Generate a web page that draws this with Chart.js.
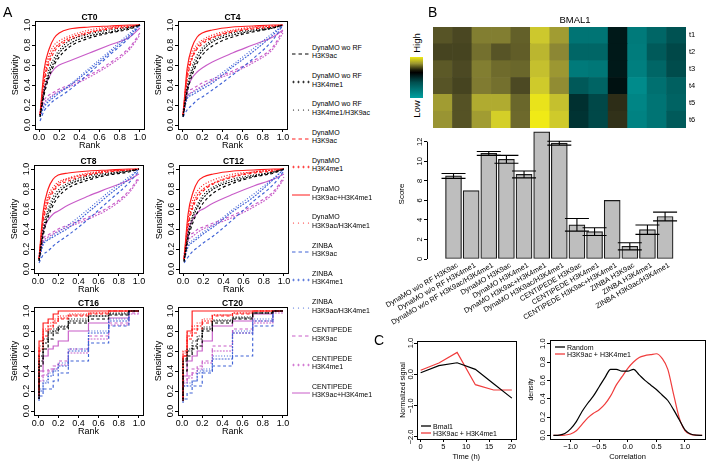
<!DOCTYPE html>
<html><head><meta charset="utf-8">
<script src="https://cdn.jsdelivr.net/npm/chart.js@4.4.1/dist/chart.umd.min.js"></script>
<style>
body{margin:0;background:#fff;}
#wrap{position:relative;width:710px;height:469px;overflow:hidden;font-family:"Liberation Sans",Arial,Helvetica,sans-serif;color:#000;}
canvas{position:absolute;}
.plab{position:absolute;font-size:14px;line-height:14px;}
.legA{position:absolute;left:312px;font-size:7px;line-height:8.5px;white-space:nowrap;}
.legA svg{position:absolute;left:-20px;}
.legC{position:absolute;font-size:7px;line-height:7px;white-space:nowrap;}
.legC svg{position:absolute;}
.rot{position:absolute;transform:translate(-50%,-50%) rotate(-90deg);white-space:nowrap;}
</style></head>
<body><div id="wrap"></div>
<script>
// ---------------- DATA ----------------
const PANELS = ['CT0','CT4','CT8','CT12','CT16','CT20'];
const RANK = [0.01,0.05,0.1,0.15,0.2,0.3,0.5,0.7,0.9,1.0];
const TICK01 = [0,0.2,0.4,0.6,0.8,1.0];
// each series: one row per panel (CT0, CT4, CT8, CT12, CT16, CT20), sensitivity at RANK
const woRF_H3K9ac = [
 [0.08,0.30,0.48,0.60,0.68,0.78,0.87,0.92,0.96,1.0],
 [0.08,0.32,0.50,0.62,0.70,0.79,0.88,0.93,0.97,1.0],
 [0.08,0.33,0.52,0.64,0.72,0.81,0.89,0.94,0.97,1.0],
 [0.07,0.30,0.47,0.58,0.66,0.76,0.86,0.92,0.96,1.0],
 [0.12,0.45,0.62,0.72,0.78,0.82,0.88,0.92,0.96,1.0],
 [0.10,0.40,0.55,0.62,0.65,0.80,0.88,0.92,0.98,1.0]];
const woRF_H3K4me1 = [
 [0.09,0.33,0.52,0.63,0.72,0.81,0.89,0.93,0.97,1.0],
 [0.09,0.35,0.54,0.66,0.74,0.83,0.90,0.94,0.97,1.0],
 [0.09,0.36,0.56,0.68,0.76,0.84,0.91,0.95,0.98,1.0],
 [0.08,0.33,0.52,0.63,0.71,0.80,0.88,0.93,0.97,1.0],
 [0.12,0.50,0.68,0.78,0.80,0.84,0.90,0.95,0.97,1.0],
 [0.12,0.50,0.60,0.65,0.72,0.82,0.90,0.93,0.98,1.0]];
const woRF_H3K4me1_H3K9ac = [
 [0.10,0.36,0.56,0.67,0.75,0.84,0.91,0.95,0.98,1.0],
 [0.10,0.38,0.58,0.70,0.77,0.85,0.92,0.95,0.98,1.0],
 [0.10,0.40,0.60,0.72,0.79,0.86,0.93,0.96,0.98,1.0],
 [0.09,0.36,0.55,0.66,0.74,0.82,0.90,0.94,0.97,1.0],
 [0.15,0.55,0.72,0.80,0.82,0.85,0.92,0.95,0.98,1.0],
 [0.15,0.52,0.62,0.70,0.75,0.84,0.91,0.94,0.98,1.0]];
const dyn_H3K9ac = [
 [0.10,0.42,0.62,0.73,0.79,0.85,0.92,0.96,0.98,1.0],
 [0.10,0.45,0.66,0.76,0.81,0.87,0.93,0.96,0.98,1.0],
 [0.10,0.46,0.67,0.77,0.83,0.88,0.94,0.97,0.99,1.0],
 [0.10,0.42,0.62,0.72,0.78,0.85,0.92,0.96,0.98,1.0],
 [0.15,0.60,0.75,0.82,0.88,0.92,0.95,0.97,1.0,1.0],
 [0.12,0.55,0.72,0.78,0.82,0.88,0.95,0.97,1.0,1.0]];
const dyn_H3K4me1 = [
 [0.10,0.45,0.66,0.76,0.81,0.87,0.93,0.97,0.99,1.0],
 [0.10,0.48,0.68,0.78,0.83,0.88,0.94,0.97,0.99,1.0],
 [0.10,0.49,0.70,0.79,0.85,0.90,0.95,0.98,0.99,1.0],
 [0.10,0.45,0.65,0.75,0.80,0.86,0.93,0.97,0.99,1.0],
 [0.15,0.62,0.80,0.85,0.90,0.93,0.96,0.98,1.0,1.0],
 [0.15,0.60,0.75,0.82,0.85,0.90,0.96,0.98,1.0,1.0]];
const dyn_H3K9ac_plus_H3K4me1 = [
 [0.10,0.55,0.76,0.87,0.92,0.96,0.98,0.99,1.0,1.0],
 [0.10,0.56,0.78,0.88,0.92,0.95,0.98,0.99,1.0,1.0],
 [0.10,0.57,0.80,0.90,0.94,0.96,0.98,0.99,1.0,1.0],
 [0.10,0.55,0.77,0.88,0.92,0.95,0.98,0.99,1.0,1.0],
 [0.20,0.70,0.88,0.92,0.97,1.0,1.0,1.0,1.0,1.0],
 [0.10,0.55,0.80,1.0,1.0,1.0,1.0,1.0,1.0,1.0]];
const dyn_H3K9ac_H3K4me1 = [
 [0.10,0.50,0.70,0.80,0.84,0.89,0.95,0.98,0.99,1.0],
 [0.10,0.52,0.72,0.81,0.85,0.90,0.95,0.98,0.99,1.0],
 [0.10,0.53,0.73,0.82,0.87,0.91,0.96,0.98,0.99,1.0],
 [0.10,0.50,0.70,0.79,0.84,0.89,0.95,0.97,0.99,1.0],
 [0.18,0.65,0.82,0.88,0.92,0.95,0.97,0.98,1.0,1.0],
 [0.12,0.58,0.78,0.85,0.88,0.92,0.96,0.98,1.0,1.0]];
const zinba_H3K9ac = [
 [0.04,0.14,0.20,0.25,0.28,0.35,0.52,0.70,0.88,1.0],
 [0.08,0.15,0.20,0.25,0.28,0.35,0.50,0.66,0.85,1.0],
 [0.06,0.14,0.18,0.23,0.27,0.34,0.50,0.68,0.86,0.98],
 [0.06,0.12,0.18,0.22,0.26,0.33,0.50,0.68,0.85,0.98],
 [0.10,0.15,0.22,0.22,0.30,0.38,0.50,0.68,0.85,1.0],
 [0.08,0.12,0.18,0.25,0.25,0.38,0.45,0.55,0.85,1.0]];
const zinba_H3K4me1 = [
 [0.08,0.18,0.24,0.28,0.32,0.39,0.55,0.72,0.90,1.0],
 [0.08,0.26,0.30,0.33,0.36,0.42,0.58,0.73,0.90,1.0],
 [0.08,0.24,0.29,0.32,0.35,0.41,0.57,0.74,0.90,1.0],
 [0.08,0.22,0.27,0.31,0.35,0.42,0.58,0.72,0.90,1.0],
 [0.12,0.20,0.28,0.35,0.40,0.45,0.60,0.78,0.90,1.0],
 [0.10,0.25,0.25,0.30,0.38,0.40,0.52,0.78,0.90,1.0]];
const zinba_H3K9ac_H3K4me1 = [
 [0.10,0.20,0.26,0.30,0.33,0.40,0.57,0.74,0.92,1.0],
 [0.10,0.28,0.32,0.35,0.38,0.45,0.60,0.76,0.92,1.0],
 [0.10,0.26,0.30,0.34,0.37,0.44,0.60,0.77,0.92,1.0],
 [0.10,0.24,0.29,0.33,0.37,0.44,0.60,0.75,0.91,1.0],
 [0.12,0.22,0.30,0.38,0.42,0.48,0.62,0.80,0.92,1.0],
 [0.12,0.25,0.28,0.30,0.40,0.42,0.55,0.80,0.92,1.0]];
const cent_H3K9ac = [
 [0.15,0.25,0.30,0.33,0.36,0.40,0.50,0.62,0.78,0.92],
 [0.15,0.32,0.36,0.39,0.42,0.46,0.54,0.64,0.78,0.95],
 [0.15,0.30,0.34,0.37,0.40,0.44,0.52,0.62,0.78,0.92],
 [0.15,0.32,0.36,0.40,0.42,0.46,0.54,0.64,0.78,0.92],
 [0.15,0.35,0.40,0.42,0.45,0.50,0.62,0.75,0.88,0.98],
 [0.12,0.30,0.35,0.42,0.45,0.50,0.65,0.82,0.90,1.0]];
const cent_H3K4me1 = [
 [0.12,0.22,0.27,0.31,0.34,0.38,0.48,0.60,0.76,0.90],
 [0.12,0.28,0.33,0.36,0.39,0.44,0.52,0.62,0.76,0.92],
 [0.12,0.27,0.32,0.35,0.38,0.42,0.50,0.60,0.76,0.90],
 [0.12,0.28,0.33,0.37,0.40,0.44,0.52,0.62,0.76,0.90],
 [0.12,0.30,0.36,0.40,0.42,0.46,0.58,0.72,0.86,0.97],
 [0.10,0.28,0.33,0.38,0.42,0.48,0.60,0.78,0.88,0.98]];
const cent_H3K9ac_plus_H3K4me1 = [
 [0.12,0.35,0.48,0.56,0.60,0.64,0.72,0.80,0.88,0.97],
 [0.10,0.35,0.47,0.53,0.57,0.63,0.72,0.80,0.88,0.95],
 [0.10,0.37,0.49,0.55,0.58,0.64,0.73,0.81,0.89,0.95],
 [0.10,0.38,0.50,0.57,0.60,0.66,0.75,0.83,0.90,0.95],
 [0.12,0.40,0.55,0.62,0.65,0.70,0.80,0.88,0.93,1.0],
 [0.12,0.35,0.50,0.55,0.60,0.70,0.85,0.90,0.97,1.0]];

// Panel B
const BAR_LABELS = ['DynaMO w/o RF H3K9ac','DynaMO w/o RF H3K4me1','DynaMO w/o RF H3K9ac/H3K4me1','DynaMO H3K9ac','DynaMO H3K4me1','DynaMO H3K9ac+H3K4me1','DynaMO H3K9ac/H3K4me1','CENTIPEDE H3K9ac','CENTIPEDE H3K4me1','CENTIPEDE H3K9ac+H3K4me1','ZINBA H3K9ac','ZINBA H3K4me1','ZINBA H3K9ac/H3K4me1'];
const BAR_SCORES = [8.5,7.0,10.8,10.2,8.65,13.0,11.85,3.5,2.8,6.0,1.3,3.0,4.35];
const BAR_ERR    = [0.25,0,0.2,0.4,0.35,0,0.2,0.65,0.4,0,0.37,0.48,0.45];
const SCORE_TICKS = [0,2,4,6,8,10,12];
const HEAT_ROWS = ['t1','t2','t3','t4','t5','t6'];
const heat_t1 = [0.38,0.32,0.56,0.56,0.43,0.85,0.68,-0.76,-0.76,-0.12,-0.80,-0.66,-0.52];
const heat_t2 = [0.30,0.30,0.50,0.38,0.42,0.78,0.60,-0.66,-0.66,-0.12,-0.82,-0.58,-0.45];
const heat_t3 = [0.40,0.33,0.56,0.48,0.46,0.82,0.66,-0.80,-0.78,-0.12,-0.84,-0.66,-0.48];
const heat_t4 = [0.38,0.30,0.55,0.50,0.33,0.86,0.62,-0.57,-0.65,-0.06,-0.92,-0.73,-0.62];
const heat_t5 = [0.68,0.37,0.74,0.74,0.46,0.97,0.82,-0.28,-0.45,0.18,-0.88,-0.76,-0.64];
const heat_t6 = [0.65,0.37,0.68,0.88,0.47,1.00,0.86,-0.30,-0.45,0.20,-0.86,-0.76,-0.58];

// Panel C
const TIME_H = [0,4,8,12,16,20];
const BMAL1_SIGNAL = [0.05,0.28,0.37,0.16,-0.30,-0.76];
const MARK_SIGNAL  = [0.13,0.36,0.70,-0.33,-0.50,-0.50];
const TIME_TICKS = [0,5,10,15,20];
const SIGNAL_TICKS = [-2,-1,0,1];
const CORR_X = [-1.3,-1.2,-1.1,-1.0,-0.9,-0.8,-0.7,-0.6,-0.5,-0.4,-0.3,-0.2,-0.1,0,0.1,0.2,0.3,0.4,0.5,0.6,0.7,0.8,0.9,1.0,1.1,1.2,1.3];
const DENS_RANDOM = [0,0.003,0.02,0.07,0.15,0.26,0.35,0.43,0.53,0.63,0.72,0.72,0.70,0.70,0.72,0.66,0.60,0.55,0.50,0.44,0.38,0.28,0.17,0.06,0.015,0.002,0];
const DENS_MARK   = [0,0,0.003,0.015,0.05,0.12,0.19,0.24,0.28,0.34,0.43,0.55,0.64,0.73,0.80,0.85,0.87,0.88,0.89,0.84,0.72,0.45,0.19,0.05,0.01,0.001,0];
const CORR_TICKS = [-1,-0.5,0,0.5,1];

// ---------------- STYLE ----------------
const FONT = '"Liberation Sans", Arial, Helvetica, sans-serif';
const BLACK='#000000', RED='#ff1a1a', BLUE='#3f62d6', MAG='#c85cc8';
const DASHES = {dash:[3,2.5], plus:[1.8,1.3], dot:[1,1.8], solid:[]};
const SERIES = [
 {name:['DynaMO wo RF','H3K9ac'], data:woRF_H3K9ac, color:BLACK, style:'dash'},
 {name:['DynaMO wo RF','H3K4me1'], data:woRF_H3K4me1, color:BLACK, style:'plus'},
 {name:['DynaMO wo RF','H3K4me1/H3K9ac'], data:woRF_H3K4me1_H3K9ac, color:BLACK, style:'dot'},
 {name:['DynaMO','H3K9ac'], data:dyn_H3K9ac, color:RED, style:'dash'},
 {name:['DynaMO','H3K4me1'], data:dyn_H3K4me1, color:RED, style:'plus'},
 {name:['DynaMO','H3K9ac+H3K4me1'], data:dyn_H3K9ac_plus_H3K4me1, color:RED, style:'solid'},
 {name:['DynaMO','H3K9ac/H3K4me1'], data:dyn_H3K9ac_H3K4me1, color:RED, style:'dot'},
 {name:['ZINBA','H3K9ac'], data:zinba_H3K9ac, color:BLUE, style:'dash'},
 {name:['ZINBA','H3K4me1'], data:zinba_H3K4me1, color:BLUE, style:'plus'},
 {name:['ZINBA','H3K9ac/H3K4me1'], data:zinba_H3K9ac_H3K4me1, color:BLUE, style:'dot'},
 {name:['CENTIPEDE','H3K9ac'], data:cent_H3K9ac, color:MAG, style:'dash'},
 {name:['CENTIPEDE','H3K4me1'], data:cent_H3K4me1, color:MAG, style:'plus'},
 {name:['CENTIPEDE','H3K9ac+H3K4me1'], data:cent_H3K9ac_plus_H3K4me1, color:MAG, style:'solid'}
];

Chart.defaults.font.family = FONT;
Chart.defaults.color = '#000';
Chart.defaults.plugins.legend.display = false;
Chart.defaults.plugins.tooltip.enabled = false;

function fmt(v, dec){ return (v < 0 ? '\u2212' : '') + Math.abs(v).toFixed(dec); }

const rAxes = {
  id:'rAxes',
  afterDraw(chart, args, o){
    if (!o || !o.on) return;
    const ctx = chart.ctx, a = chart.chartArea;
    ctx.save();
    ctx.strokeStyle = '#000'; ctx.fillStyle = '#000'; ctx.lineWidth = 1;
    if (o.box) {
      ctx.strokeRect(Math.round(a.left)+0.5, Math.round(a.top)+0.5, Math.round(a.right-a.left), Math.round(a.bottom-a.top));
    }
    if (o.axisLine) {
      const ys = chart.scales.y, t = ys.ticks, x = Math.round(a.left)+0.5;
      ctx.beginPath(); ctx.moveTo(x, ys.getPixelForValue(t[0].value)); ctx.lineTo(x, ys.getPixelForValue(t[t.length-1].value)); ctx.stroke();
    }
    if (o.yLabels) {
      const ys = chart.scales.y;
      ctx.font = o.yFont; ctx.textAlign = 'center'; ctx.textBaseline = 'middle';
      ys.ticks.forEach(t => {
        const y = ys.getPixelForValue(t.value);
        ctx.save(); ctx.translate(a.left - o.yOff, y); ctx.rotate(-Math.PI/2);
        ctx.fillText(fmt(t.value, o.dec), 0, 0); ctx.restore();
      });
    }
    if (o.title) {
      ctx.font = o.titleFont; ctx.textAlign = 'center'; ctx.textBaseline = 'alphabetic';
      const tx = (o.titleX !== undefined && o.titleX !== null) ? o.titleX : (a.left + a.right)/2;
      ctx.fillText(o.title, tx, a.top - o.titleGap);
    }
    ctx.restore();
  }
};
const errBars = {
  id:'errBars',
  afterDatasetsDraw(chart, args, o){
    if (!o || !o.on) return;
    const ctx = chart.ctx, meta = chart.getDatasetMeta(0), ys = chart.scales.y;
    ctx.save(); ctx.strokeStyle = '#000'; ctx.lineWidth = 1.1;
    BAR_ERR.forEach((e, i) => {
      if (!e) return;
      const x = meta.data[i].x;
      const yT = ys.getPixelForValue(BAR_SCORES[i] + e), yB = ys.getPixelForValue(BAR_SCORES[i] - e);
      ctx.beginPath();
      ctx.moveTo(x, yT); ctx.lineTo(x, yB);
      ctx.moveTo(x-12, yT); ctx.lineTo(x+12, yT);
      ctx.moveTo(x-12, yB); ctx.lineTo(x+12, yB);
      ctx.stroke();
    });
    ctx.restore();
  }
};
Chart.register(rAxes, errBars);

function linScale(o){
  const vertical = (o.pos === 'left' || o.pos === 'right');
  return {
    type:'linear', min:o.min, max:o.max, position:o.pos,
    afterBuildTicks: sc => { sc.ticks = o.ticks.map(v => ({value:v})); },
    afterFit: sc => { if (vertical) sc.width = o.size; else sc.height = o.size;
                      sc.paddingLeft = 0; sc.paddingRight = 0; sc.paddingTop = 0; sc.paddingBottom = 0; },
    grid:{display:true, drawOnChartArea:false, drawTicks:true, tickLength:3, color:'#000', lineWidth:1},
    border:{display:false},
    ticks:{autoSkip:false, maxRotation:0, minRotation:0, padding:o.pad || 0,
           font:{size:o.fs, family:FONT}, color:o.hideLabels ? 'rgba(0,0,0,0)' : '#000',
           callback: v => fmt(v, o.dec)},
    title:{display:!!o.title, text:o.title, font:{size:o.tfs, family:FONT}, padding:o.tpad || {top:0,bottom:0}, color:'#000'}
  };
}

const wrap = document.getElementById('wrap');
function make(left, top, w, h, cfg){
  const c = document.createElement('canvas');
  c.width = w; c.height = h;
  Object.assign(c.style, {left:left+'px', top:top+'px', width:w+'px', height:h+'px'});
  wrap.appendChild(c);
  cfg.options = Object.assign({responsive:false, animation:false, devicePixelRatio:1, maintainAspectRatio:false}, cfg.options);
  return new Chart(c, cfg);
}
function addHTML(html){ wrap.insertAdjacentHTML('beforeend', html); }

// ---------------- PANEL A ----------------
const ROC_BOX = [[35,21],[178,21],[34,165],[179,165],[34,307],[178,307]];
PANELS.forEach((name, p) => {
  const [bl, bt] = ROC_BOX[p];
  const stepped = p >= 4;
  const datasets = SERIES.map(s => ({
    data: RANK.map((x, i) => ({x, y:s.data[p][i]})),
    borderColor: s.color, borderWidth: 1.15, borderDash: DASHES[s.style],
    pointRadius: 0, fill: false,
    stepped: stepped ? 'after' : false,
    cubicInterpolationMode: stepped ? 'default' : 'monotone'
  }));
  make(bl - 25, bt - 14, 139, 144, {
    type:'line', data:{datasets},
    options:{
      layout:{padding:{left:0, top:14, right:5, bottom:0}},
      plugins:{rAxes:{on:true, box:true, yLabels:true, yOff:7, yFont:'9px '+FONT, dec:1,
                      title:name, titleFont:'bold 8.5px '+FONT, titleGap:1.5}},
      scales:{
        x: linScale({min:-0.04, max:1.04, ticks:TICK01, pos:'bottom', size:22, fs:9, dec:1, title:'Rank', tfs:9}),
        y: linScale({min:-0.04, max:1.04, ticks:TICK01, pos:'left', size:25, fs:9, dec:1, hideLabels:true, title:'Sensitivity', tfs:9})
      }
    }
  });
});

function sampleSVG(style, color, w, y){
  let inner = '';
  if (style === 'plus') {
    [1.5, 6.5, 11.5, 16.5].forEach(x => { inner += `<path d="M${x-1.3} ${y}H${x+1.3}M${x} ${y-1.3}V${y+1.3}" stroke="${color}" stroke-width="0.7"/>`; });
  } else if (style === 'dot') {
    [1.5, 6.5, 11.5, 16.5].forEach(x => { inner += `<circle cx="${x}" cy="${y}" r="0.6" fill="${color}"/>`; });
  } else {
    const da = style === 'dash' ? 'stroke-dasharray="3.5,3"' : '';
    inner = `<line x1="0" y1="${y}" x2="${w}" y2="${y}" stroke="${color}" stroke-width="1" ${da}/>`;
  }
  return inner;
}
SERIES.forEach((s, i) => {
  const top = 43.75 + 28.25*i;
  addHTML(`<div class="legA" style="top:${top}px"><svg width="19" height="6" style="top:7px">${sampleSVG(s.style, s.color, 18, 3)}</svg>${s.name[0]}<br>${s.name[1]}</div>`);
});

// ---------------- PANEL B ----------------
function lerp(a, b, t){ return a + (b - a)*t; }
const POS_STOPS = [[0,[8,12,10]],[0.35,[80,77,36]],[0.6,[140,135,52]],[0.85,[205,200,45]],[1,[240,234,22]]];
function heatColor(v){
  if (v < 0) { const a = Math.min(1, -v); const g = Math.round(8 + 142*a); return `rgb(0,${g},${g})`; }
  for (let k = 1; k < POS_STOPS.length; k++) {
    const [v0, c0] = POS_STOPS[k-1], [v1, c1] = POS_STOPS[k];
    if (v <= v1) { const t = (v - v0)/(v1 - v0); return `rgb(${Math.round(lerp(c0[0],c1[0],t))},${Math.round(lerp(c0[1],c1[1],t))},${Math.round(lerp(c0[2],c1[2],t))})`; }
  }
  return 'rgb(240,234,22)';
}
const HEAT = [heat_t1, heat_t2, heat_t3, heat_t4, heat_t5, heat_t6];
make(425, 8, 285, 127, {
  type:'bar',
  data:{labels:BAR_LABELS, datasets: HEAT.slice().reverse().map(row => ({
    data: row.map(() => 1), backgroundColor: row.map(heatColor), borderWidth:0,
    barPercentage:1, categoryPercentage:1 }))},
  options:{
    layout:{padding:{left:8, top:19, right:0, bottom:7}},
    plugins:{rAxes:{on:true, title:'BMAL1', titleFont:'9.5px '+FONT, titleGap:4, titleX:150}},
    scales:{
      x:{stacked:true, display:false},
      y:{stacked:true, position:'right', min:0, max:6,
         afterBuildTicks: sc => { sc.ticks = HEAT_ROWS.map((r, i) => ({value: 5.5 - i})); },
         afterFit: sc => { sc.width = 24; sc.paddingTop = 0; sc.paddingBottom = 0; },
         grid:{display:false, drawTicks:false}, border:{display:false},
         ticks:{padding:3, font:{size:7.5}, callback: v => HEAT_ROWS[Math.round(5.5 - v)]}}
    }
  }
});
addHTML(`<div style="position:absolute;left:410px;top:57px;width:13px;height:41px;background:linear-gradient(to bottom,#f0ea14 0%,#9a9530 16%,#1a1a08 32%,#000 38%,#005050 62%,#00a0a0 100%);"></div>`);
addHTML(`<div class="rot" style="left:416px;top:43px;font-size:9.5px;">High</div>`);
addHTML(`<div class="rot" style="left:416px;top:109px;font-size:9.5px;">Low</div>`);

make(375, 120, 315, 210, {
  type:'bar',
  data:{datasets:[{data: BAR_SCORES.map((v, i) => ({x:i+1, y:v})),
    backgroundColor:'#bebebe', borderColor:'#1a1a1a', borderWidth:1.2, borderSkipped:false, barThickness:16}]},
  options:{
    layout:{padding:{left:0, top:9, right:4.4, bottom:0}},
    plugins:{rAxes:{on:true, yLabels:true, yOff:7.5, yFont:'7.5px '+FONT, dec:0, axisLine:true}, errBars:{on:true}},
    scales:{
      x:{type:'linear', min:0.06, max:13.6,
         afterBuildTicks: sc => { sc.ticks = BAR_LABELS.map((l, i) => ({value:i+1})); },
         afterFit: sc => { sc.height = 71; sc.paddingLeft = 0; sc.paddingRight = 0; },
         grid:{display:false, drawTicks:false}, border:{display:false},
         ticks:{autoSkip:false, minRotation:30, maxRotation:30, padding:2, labelOffset:4, font:{size:7.3}, callback: v => BAR_LABELS[v-1]}},
      y: linScale({min:0, max:13.3, ticks:SCORE_TICKS, pos:'left', size:52, fs:7.5, dec:0, hideLabels:true, title:'Score', tfs:8, tpad:{top:22.2, bottom:0}})
    }
  }
});

// ---------------- PANEL C ----------------
make(395, 330, 125, 139, {
  type:'line',
  data:{datasets:[
    {data: TIME_H.map((t, i) => ({x:t, y:BMAL1_SIGNAL[i]})), borderColor:'#000', borderWidth:1.2, pointRadius:0},
    {data: TIME_H.map((t, i) => ({x:t, y:MARK_SIGNAL[i]})), borderColor:'#f03c3c', borderWidth:1.2, pointRadius:0}]},
  options:{
    layout:{padding:{left:0, top:11, right:4.5, bottom:0}},
    plugins:{rAxes:{on:true, box:true, yLabels:true, yOff:6, yFont:'7.5px '+FONT, dec:1}},
    scales:{
      x: linScale({min:-0.8, max:20.8, ticks:TIME_TICKS, pos:'bottom', size:30, fs:7.5, dec:0, pad:0.5, title:'Time (h)', tfs:7.5, tpad:{top:0, bottom:7.5}}),
      y: linScale({min:-2.065, max:1.065, ticks:SIGNAL_TICKS, pos:'left', size:22, fs:7.5, dec:1, hideLabels:true, title:'Normalized signal', tfs:7, tpad:{top:3.8, bottom:0}})
    }
  }
});
make(525, 330, 185, 139, {
  type:'line',
  data:{datasets:[
    {data: CORR_X.map((x, i) => ({x, y:DENS_RANDOM[i]})), borderColor:'#000', borderWidth:1.2, pointRadius:0, cubicInterpolationMode:'monotone'},
    {data: CORR_X.map((x, i) => ({x, y:DENS_MARK[i]})), borderColor:'#f03c3c', borderWidth:1.2, pointRadius:0, cubicInterpolationMode:'monotone'}]},
  options:{
    layout:{padding:{left:0, top:10, right:5, bottom:0}},
    plugins:{rAxes:{on:true, box:true, yLabels:true, yOff:7, yFont:'7.5px '+FONT, dec:1}},
    scales:{
      x: linScale({min:-1.36, max:1.35, ticks:CORR_TICKS, pos:'bottom', size:30, fs:7.5, dec:1, pad:0.5, title:'Correlation', tfs:7.5, tpad:{top:0, bottom:7.5}}),
      y: linScale({min:-0.04, max:1.04, ticks:TICK01, pos:'left', size:25, fs:7.5, dec:1, hideLabels:true, title:'density', tfs:7, tpad:{top:1.8, bottom:0}})
    }
  }
});
function legC(left, top, color, text){
  addHTML(`<div class="legC" style="left:${left}px;top:${top - 3.5}px"><svg width="10" height="4" style="left:-12px;top:1.5px"><line x1="0" y1="2" x2="10" y2="2" stroke="${color}" stroke-width="1.3"/></svg>${text}</div>`);
}
legC(433, 426, '#000', 'Bmal1');
legC(433, 433, '#f03c3c', 'H3K9ac + H3K4me1');
legC(567, 347, '#000', 'Random');
legC(567, 354, '#f03c3c', 'H3K9ac + H3K4me1');

// panel letters
addHTML(`<div class="plab" style="left:3px;top:5px">A</div>`);
addHTML(`<div class="plab" style="left:428px;top:5px">B</div>`);
addHTML(`<div class="plab" style="left:374px;top:333px">C</div>`);
</script>
</body></html>
